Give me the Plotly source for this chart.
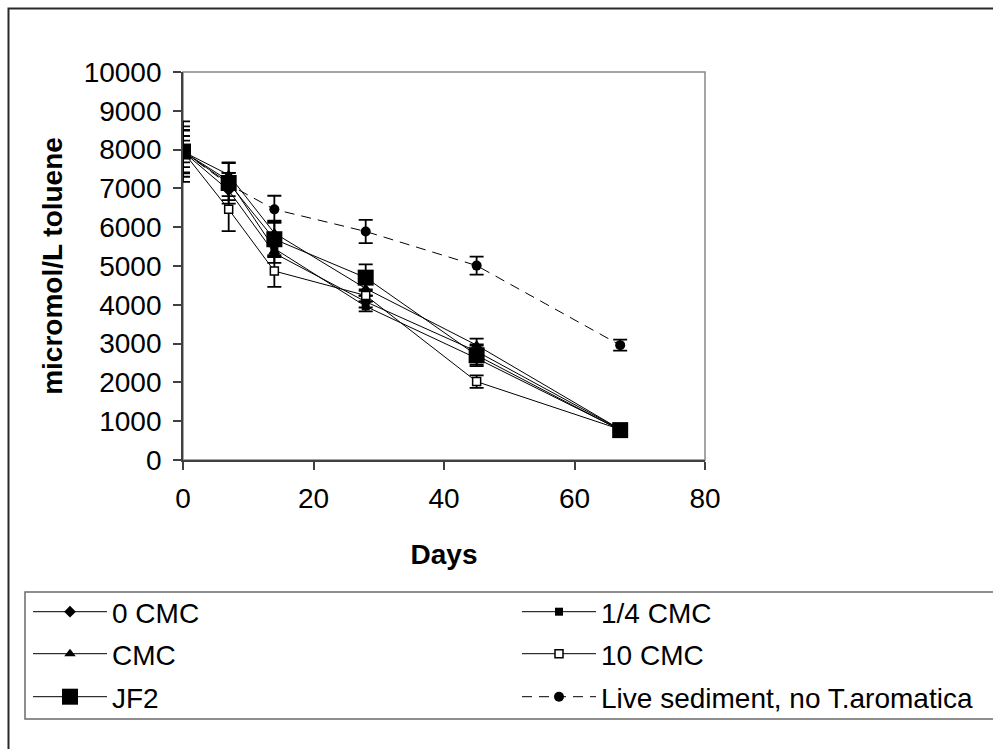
import plotly.graph_objects as go

days = [0, 7, 14, 28, 45, 67]

series_names = ["0 CMC", "1/4 CMC", "CMC", "10 CMC", "JF2", "Live sediment, no T.aromatica"]

cmc0 = [7950, 6950, 5330, 4080, 2800, 790]
cmc0_err = [400, 250, 250, 150, 150, 80]

cmc_quarter = [7950, 7200, 5450, 3960, 2620, 780]
cmc_quarter_err = [280, 200, 220, 130, 160, 70]

cmc1 = [7950, 7350, 5850, 4420, 2960, 790]
cmc1_err = [650, 300, 320, 180, 170, 80]

cmc10 = [7950, 6460, 4870, 4240, 2020, 790]
cmc10_err = [540, 560, 410, 160, 160, 80]

jf2 = [7950, 7140, 5690, 4700, 2700, 770]
jf2_err = [780, 530, 450, 340, 280, 80]

live = [7950, 7100, 6460, 5890, 5010, 2960]
live_err = [560, 300, 350, 300, 230, 140]

FONT = "Arial, Liberation Sans, sans-serif"

# plot area in pixels
L, R, T, B = 183, 705, 72, 460
W, H = 993, 749
pw, ph = R - L, B - T


def px(x):
    return (x - L) / pw


def py(y):
    return (B - y) / ph


fig = go.Figure()

specs = [
    (cmc0, cmc0_err, "diamond", 9, "solid"),
    (cmc_quarter, cmc_quarter_err, "square", 8, "solid"),
    (cmc1, cmc1_err, "triangle-up", 10, "solid"),
    (cmc10, cmc10_err, "square-open", 8, "solid"),
    (jf2, jf2_err, "square", 16, "solid"),
    (live, live_err, "circle", 10, "dash"),
]

# legend placement (pixel positions of each entry)
leg_pos = [(33, 612), (522, 612), (33, 654), (522, 654), (33, 697), (522, 697)]
legend_ids = ["legend", "legend2", "legend3", "legend4", "legend5", "legend6"]

for i, (vals, errs, sym, size, dash) in enumerate(specs):
    marker = dict(symbol=sym, size=size, color="black")
    if sym == "square-open":
        marker = dict(symbol="square", size=size, color="white", line=dict(color="black", width=1.5))
    fig.add_trace(go.Scatter(
        x=days, y=vals, name=series_names[i], mode="lines+markers",
        line=dict(color="black", width=1, dash="10px,7px" if dash == "dash" else "solid"),
        marker=marker,
        error_y=dict(type="data", array=errs, visible=True, color="black", thickness=1.8, width=7),
        legend=legend_ids[i],
    ))

legend_common = dict(
    font=dict(family=FONT, size=28, color="black"),
    bgcolor="rgba(0,0,0,0)", borderwidth=0, itemwidth=74,
    xanchor="left", yanchor="middle", orientation="h",
)
legends = {}
for i, lid in enumerate(legend_ids):
    lx, ly = leg_pos[i]
    d = dict(legend_common)
    d.update(x=px(lx - 5), y=py(ly))
    legends[lid] = d

shapes = [
    # outer chart border
    dict(type="rect", xref="paper", yref="paper", x0=px(8.5), y0=py(780), x1=px(1010), y1=py(8.5),
         line=dict(color="#2a2a2a", width=2), layer="below"),
    # plot area border (top/right gray)
    dict(type="rect", xref="paper", yref="paper", x0=0, y0=0, x1=1, y1=1,
         line=dict(color="#888888", width=1.5), layer="below"),
    # legend box
    dict(type="rect", xref="paper", yref="paper", x0=px(25), y0=py(719), x1=px(1010), y1=py(592),
         line=dict(color="#6a6a6a", width=1.5), layer="below"),
]

fig.update_layout(
    width=W, height=H,
    margin=dict(l=L, r=W - R, t=T, b=H - B, autoexpand=False),
    paper_bgcolor="white", plot_bgcolor="white",
    font=dict(family=FONT, size=28, color="black"),
    showlegend=True,
    shapes=shapes,
    **legends,
)

fig.update_xaxes(
    range=[0, 80], dtick=20, tick0=0, showgrid=False, zeroline=False,
    showline=True, linecolor="#404040", linewidth=1.8,
    ticks="outside", ticklen=8, tickwidth=1.5, tickcolor="#404040",
    tickfont=dict(family=FONT, size=28, color="black"), ticklabelstandoff=4,
    tickformat="d",
    title=dict(text="<b>Days</b>", font=dict(family=FONT, size=28, color="black"), standoff=32),
)
fig.update_yaxes(
    range=[0, 10000], dtick=1000, tick0=0, showgrid=False, zeroline=False,
    showline=True, linecolor="#404040", linewidth=1.8,
    ticks="outside", ticklen=8, tickwidth=1.5, tickcolor="#404040",
    tickfont=dict(family=FONT, size=28, color="black"), ticklabelstandoff=6,
    tickformat="d",
    title=dict(text="<b>micromol/L toluene</b>", font=dict(family=FONT, size=28, color="black"), standoff=13),
)

fig.write_html("out.html")
